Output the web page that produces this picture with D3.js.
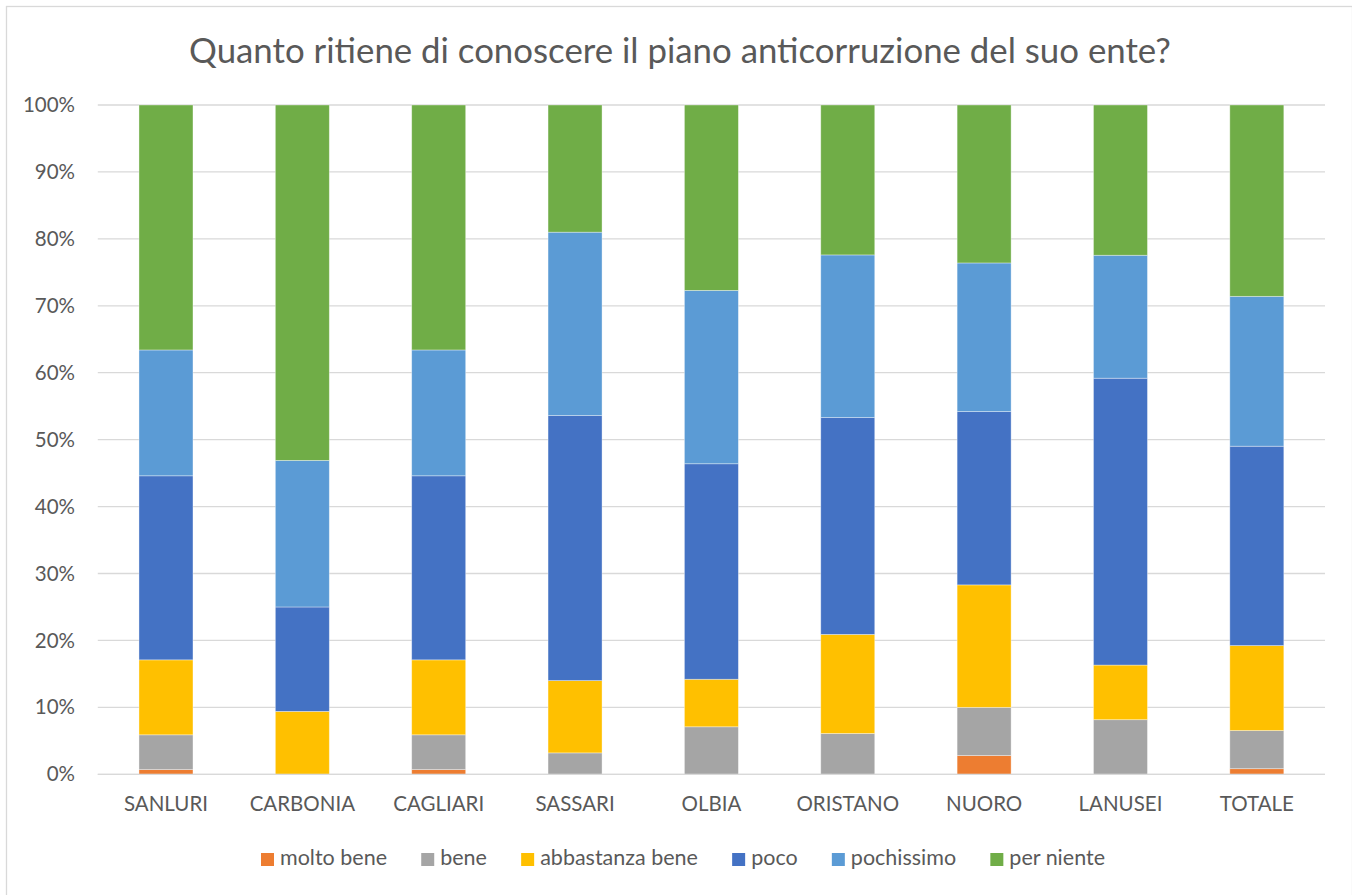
<!DOCTYPE html>
<html>
<head>
<meta charset="utf-8">
<script src="https://cdn.jsdelivr.net/npm/d3@7"></script>
<style>
  html, body { margin: 0; padding: 0; background: #fff; }
  svg text { font-family: Lato, "Open Sans", sans-serif; fill: #595959; }
</style>
</head>
<body>
<svg id="chart" width="1352" height="895"></svg>
<script>
const title = "Quanto ritiene di conoscere il piano anticorruzione del suo ente?";
const categories = ["SANLURI", "CARBONIA", "CAGLIARI", "SASSARI", "OLBIA", "ORISTANO", "NUORO", "LANUSEI", "TOTALE"];
const seriesNames = ["molto bene", "bene", "abbastanza bene", "poco", "pochissimo", "per niente"];
const seriesColors = ["#ED7D31", "#A5A5A5", "#FFC000", "#4472C4", "#5B9BD5", "#70AD47"];
// percentages per category
const moltoBene      = [0.7, 0,    0.7, 0,    0,    0,    2.8,  0,     0.84];
const bene           = [5.2, 0,    5.2, 3.2,  7.1,  6.1,  7.2,  8.16,  5.7];
const abbastanzaBene = [11.2, 9.4, 11.2, 10.8, 7.1, 14.8, 18.3, 8.16,  12.7];
const poco           = [27.5, 15.6, 27.5, 39.6, 32.2, 32.4, 25.9, 42.86, 29.8];
const pochissimo     = [18.8, 21.9, 18.8, 27.4, 25.9, 24.3, 22.2, 18.37, 22.4];
const perNiente      = [36.6, 53.1, 36.6, 19.0, 27.7, 22.4, 23.6, 22.45, 28.6];
const yTicks = [0, 0.1, 0.2, 0.3, 0.4, 0.5, 0.6, 0.7, 0.8, 0.9, 1.0];

const seriesValues = [moltoBene, bene, abbastanzaBene, poco, pochissimo, perNiente];
const rows = categories.map((c, i) => {
  const r = { cat: c };
  const tot = d3.sum(seriesValues, s => s[i]);
  seriesNames.forEach((n, k) => r[n] = seriesValues[k][i] / tot);
  return r;
});

const svg = d3.select("#chart");
const W = 1352, H = 895;
const m = { left: 97.8, right: 1325, top: 105, bottom: 774.3 };

// chart border
svg.append("rect").attr("x", 6.5).attr("y", 6.5).attr("width", W - 6).attr("height", H)
  .attr("fill", "#fff").attr("stroke", "#D9D9D9").attr("stroke-width", 1.3);

const x = d3.scaleBand().domain(categories).range([m.left, m.right]).paddingInner(0.604).paddingOuter(0.302);
const y = d3.scaleLinear().domain([0, 1]).range([m.bottom, m.top]);

// title
svg.append("text").attr("x", 680).attr("y", 63).attr("text-anchor", "middle")
  .style("font-size", "34.8px").text(title);

// gridlines
svg.append("g").selectAll("line").data(yTicks).join("line")
  .attr("x1", m.left).attr("x2", m.right)
  .attr("y1", d => y(d)).attr("y2", d => y(d))
  .attr("stroke", "#D9D9D9").attr("stroke-width", 1.3);

// y axis labels
const yAxis = d3.axisLeft(y).tickValues(yTicks).tickFormat(d3.format(".0%")).tickSize(0).tickPadding(0);
const ya = svg.append("g").attr("transform", `translate(75,0)`).call(yAxis);
ya.select(".domain").remove();
ya.selectAll("text").style("font-size", "20.5px").attr("fill", "#595959");

// bars
const stack = d3.stack().keys(seriesNames)(rows);
svg.append("g").selectAll("g").data(stack).join("g")
  .attr("fill", (d, i) => seriesColors[i])
  .selectAll("rect").data(d => d).join("rect")
  .attr("x", d => x(d.data.cat))
  .attr("width", x.bandwidth())
  .attr("y", d => y(d[1]))
  .attr("height", d => Math.max(0, y(d[0]) - y(d[1])))
  .attr("stroke", "#fff").attr("stroke-opacity", 0.45).attr("stroke-width", 0.8);

// x axis baseline redraw
svg.append("line").attr("x1", m.left).attr("x2", m.right)
  .attr("y1", y(0)).attr("y2", y(0)).attr("stroke", "#D9D9D9").attr("stroke-width", 1.3);

// x axis labels
const xAxis = d3.axisBottom(x).tickSize(0).tickPadding(0);
const xa = svg.append("g").attr("transform", `translate(0,${y(0) + 22})`).call(xAxis);
xa.select(".domain").remove();
xa.selectAll("text").style("font-size", "20.5px").attr("fill", "#595959");

// legend
const lg = svg.append("g");
const items = lg.selectAll("g").data(seriesNames).join("g");
items.append("rect").attr("width", 13).attr("height", 13).attr("y", -12)
  .attr("fill", (d, i) => seriesColors[i]);
items.append("text").attr("x", 19).attr("y", 0).style("font-size", "21.5px").text(d => d);
const widths = [];
items.each(function () { widths.push(this.getBBox().width); });
const targetW = 844;
const gap = (targetW - d3.sum(widths)) / (widths.length - 1);
let cx = 0;
items.each(function (d, i) {
  d3.select(this).attr("transform", `translate(${cx},0)`);
  cx += widths[i] + gap;
});
lg.attr("transform", `translate(${683 - targetW / 2},865)`);
</script>
</body>
</html>
